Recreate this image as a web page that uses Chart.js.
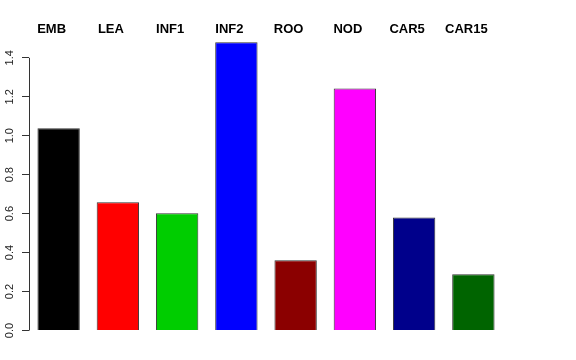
<!DOCTYPE html>
<html>
<head>
<meta charset="utf-8">
<script src="https://cdn.jsdelivr.net/npm/chart.js@4"></script>
<style>
  html, body { margin: 0; padding: 0; background: #fff; }
  #wrap { width: 576px; height: 360px; }
</style>
</head>
<body>
<div id="wrap"><canvas id="myChart" width="576" height="360"></canvas></div>
<script>
const labels = ['EMB', 'LEA', 'INF1', 'INF2', 'ROO', 'NOD', 'CAR5', 'CAR15'];
const values = [1.038, 0.659, 0.602, 1.48, 0.361, 1.242, 0.58, 0.289];
const colors = ['#000000', '#FF0000', '#00CD00', '#0000FF', '#8B0000', '#FF00FF', '#00008B', '#006400'];
const yTicks = [0, 0.2, 0.4, 0.6, 0.8, 1.0, 1.2, 1.4];

// R style axis line: only from first to last tick
const axisLine = {
    id: 'axisLine',
    afterDraw(chart) {
        const y = chart.scales.y;
        const ctx = chart.ctx;
        ctx.save();
        ctx.strokeStyle = '#333';
        ctx.lineWidth = 1;
        ctx.beginPath();
        ctx.moveTo(y.right + 0.5, y.getPixelForValue(yTicks[0]));
        ctx.lineTo(y.right + 0.5, y.getPixelForValue(yTicks[yTicks.length - 1]));
        ctx.stroke();
        ctx.restore();
    }
};

const data = {
    labels: labels,
    datasets: [{
        data: values,
        backgroundColor: colors,
        borderColor: '#333',
        borderWidth: 1,
        barPercentage: 0.715,
        categoryPercentage: 1.0,
        clip: false
    }]
};

const config = {
    type: 'bar',
    data: data,
    plugins: [axisLine],
    options: {
        responsive: false,
        animation: false,
        layout: { padding: { left: 0, right: 73, top: 0, bottom: 29.5 } },
        plugins: {
            legend: { display: false },
            tooltip: { enabled: false }
        },
        scales: {
            x: {
                position: 'top',
                grid: { display: false, drawTicks: false },
                border: { display: false },
                ticks: {
                    color: '#000',
                    font: { family: 'Liberation Sans', size: 13, weight: 'bold' },
                    labelOffset: -7,
                    padding: -1,
                    maxRotation: 0,
                    autoSkip: false
                },
                afterFit(scale) { scale.height = 36; }
            },
            y: {
                min: 0,
                max: 1.512,
                grid: {
                    drawOnChartArea: false,
                    tickLength: 7,
                    color: '#333'
                },
                border: { display: false },
                afterBuildTicks(scale) {
                    scale.ticks = yTicks.map(v => ({ value: v }));
                },
                ticks: {
                    color: '#222',
                    font: { family: 'Liberation Sans', size: 11 },
                    minRotation: 90,
                    maxRotation: 90,
                    crossAlign: 'center',
                    padding: 4,
                    callback: v => v.toFixed(1)
                },
                afterFit(scale) { scale.width = 29; }
            }
        }
    }
};

var ctx = document.getElementById('myChart');
const myChart = new Chart(ctx, config);
</script>
</body>
</html>
